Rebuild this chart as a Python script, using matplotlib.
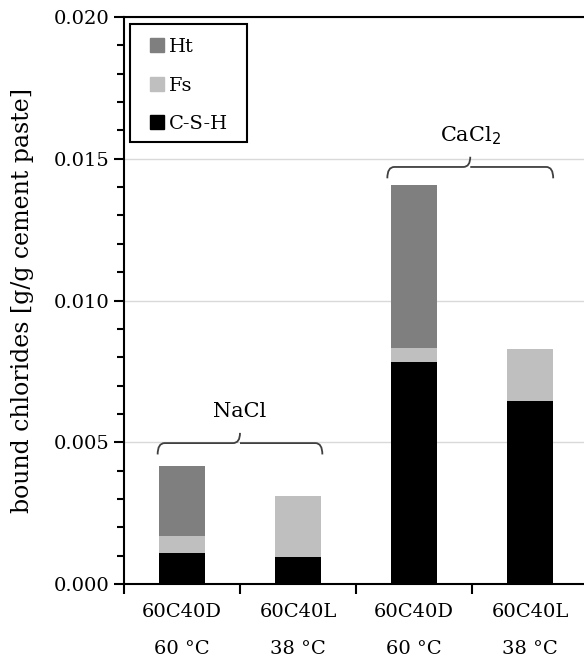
import matplotlib.pyplot as plt
import numpy as np
from matplotlib.path import Path
from matplotlib.patches import PathPatch, Rectangle
from matplotlib.lines import Line2D
from matplotlib.ticker import MultipleLocator

plt.rcParams['font.family'] = ['DejaVu Serif']

# data
mixes = ['60C40D', '60C40L', '60C40D', '60C40L']
temps = ['60 °C', '38 °C', '60 °C', '38 °C']
csh = [0.00109, 0.00095, 0.00783, 0.00644]
fs = [0.00060, 0.00215, 0.00051, 0.00184]
ht = [0.00247, 0.0, 0.00573, 0.0]
groups = ['NaCl', 'CaCl$_2$']
series = ['Ht', 'Fs', 'C-S-H']
colors = {'Ht': '#7f7f7f', 'Fs': '#bfbfbf', 'C-S-H': 'black'}

x = np.arange(len(mixes)) + 0.5
csh = np.array(csh)
fs = np.array(fs)
ht = np.array(ht)

fig = plt.figure(figsize=(5.84, 6.66), dpi=100)
ax = fig.add_axes([124 / 584, 1 - 584 / 666, 464 / 584, 567 / 666])

w = 0.4
ax.bar(x, csh, w, color=colors['C-S-H'], zorder=3)
ax.bar(x, fs, w, bottom=csh, color=colors['Fs'], zorder=3)
ax.bar(x, ht, w, bottom=csh + fs, color=colors['Ht'], zorder=3)

ax.set_xlim(0, 4)
ax.set_ylim(0, 0.020)
ax.yaxis.set_major_locator(MultipleLocator(0.005))
ax.yaxis.set_minor_locator(MultipleLocator(0.001))
ax.yaxis.set_major_formatter(plt.FormatStrFormatter('%.3f'))
ax.grid(axis='y', which='major', color='#d9d9d9', lw=1, zorder=0)
ax.set_xticks(np.arange(0, 5))
ax.set_xticklabels([])
ax.set_xticks(x, minor=True)
ax.set_xticklabels([m + '\n' + t for m, t in zip(mixes, temps)], minor=True,
                   fontsize=14, linespacing=2.3)
ax.tick_params(axis='x', which='minor', length=0, pad=14)
ax.tick_params(axis='x', which='major', direction='out', length=7, width=1.5)
ax.tick_params(axis='y', which='both', direction='out', width=1.5, labelsize=14)
ax.tick_params(axis='y', which='major', length=7)
ax.tick_params(axis='y', which='minor', length=5)
for s in ['left', 'bottom', 'top']:
    ax.spines[s].set_linewidth(1.5)
ax.spines['right'].set_visible(False)
ax.set_ylabel('bound chlorides [g/g cement paste]', fontsize=17)
ax.yaxis.set_label_coords(-90 / 464, 0.5)


def bracket(x0, x1, y, label):
    h = 0.0004
    r = 0.06
    xm = (x0 + x1) / 2
    verts = [(x0, y - h), (x0, y), (x0 + r, y), (xm - r, y), (xm, y), (xm, y + h * 0.9),
             (xm, y), (xm + r, y), (x1 - r, y), (x1, y), (x1, y - h)]
    codes = [Path.MOVETO, Path.CURVE3, Path.CURVE3, Path.LINETO, Path.CURVE3, Path.CURVE3,
             Path.MOVETO, Path.CURVE3, Path.LINETO, Path.CURVE3, Path.CURVE3]
    ax.add_patch(PathPatch(Path(verts, codes), fill=False, lw=1.3, color='#404040', zorder=4))
    ax.text(xm, y + 0.0011, label, ha='center', va='center', fontsize=15)


bracket(0.29, 1.71, 0.00497, groups[0])
bracket(2.27, 3.70, 0.01471, groups[1])

# legend: square markers, frame drawn separately
handles = [Line2D([], [], ls='none', marker='s', markersize=10, color=colors[s]) for s in series]
leg = ax.legend(handles, series, loc='upper left', bbox_to_anchor=(25 / 464, 0.963),
                fontsize=14, handlelength=0.8, handletextpad=0.2, labelspacing=1.06,
                borderpad=0, borderaxespad=0, frameon=False)
leg.set_zorder(6)
ax.add_patch(Rectangle((6 / 464, 442 / 567), 117 / 464, 118 / 567, transform=ax.transAxes,
                       facecolor='white', edgecolor='black', lw=1.5, zorder=5))

plt.savefig('out.png', dpi=100)
